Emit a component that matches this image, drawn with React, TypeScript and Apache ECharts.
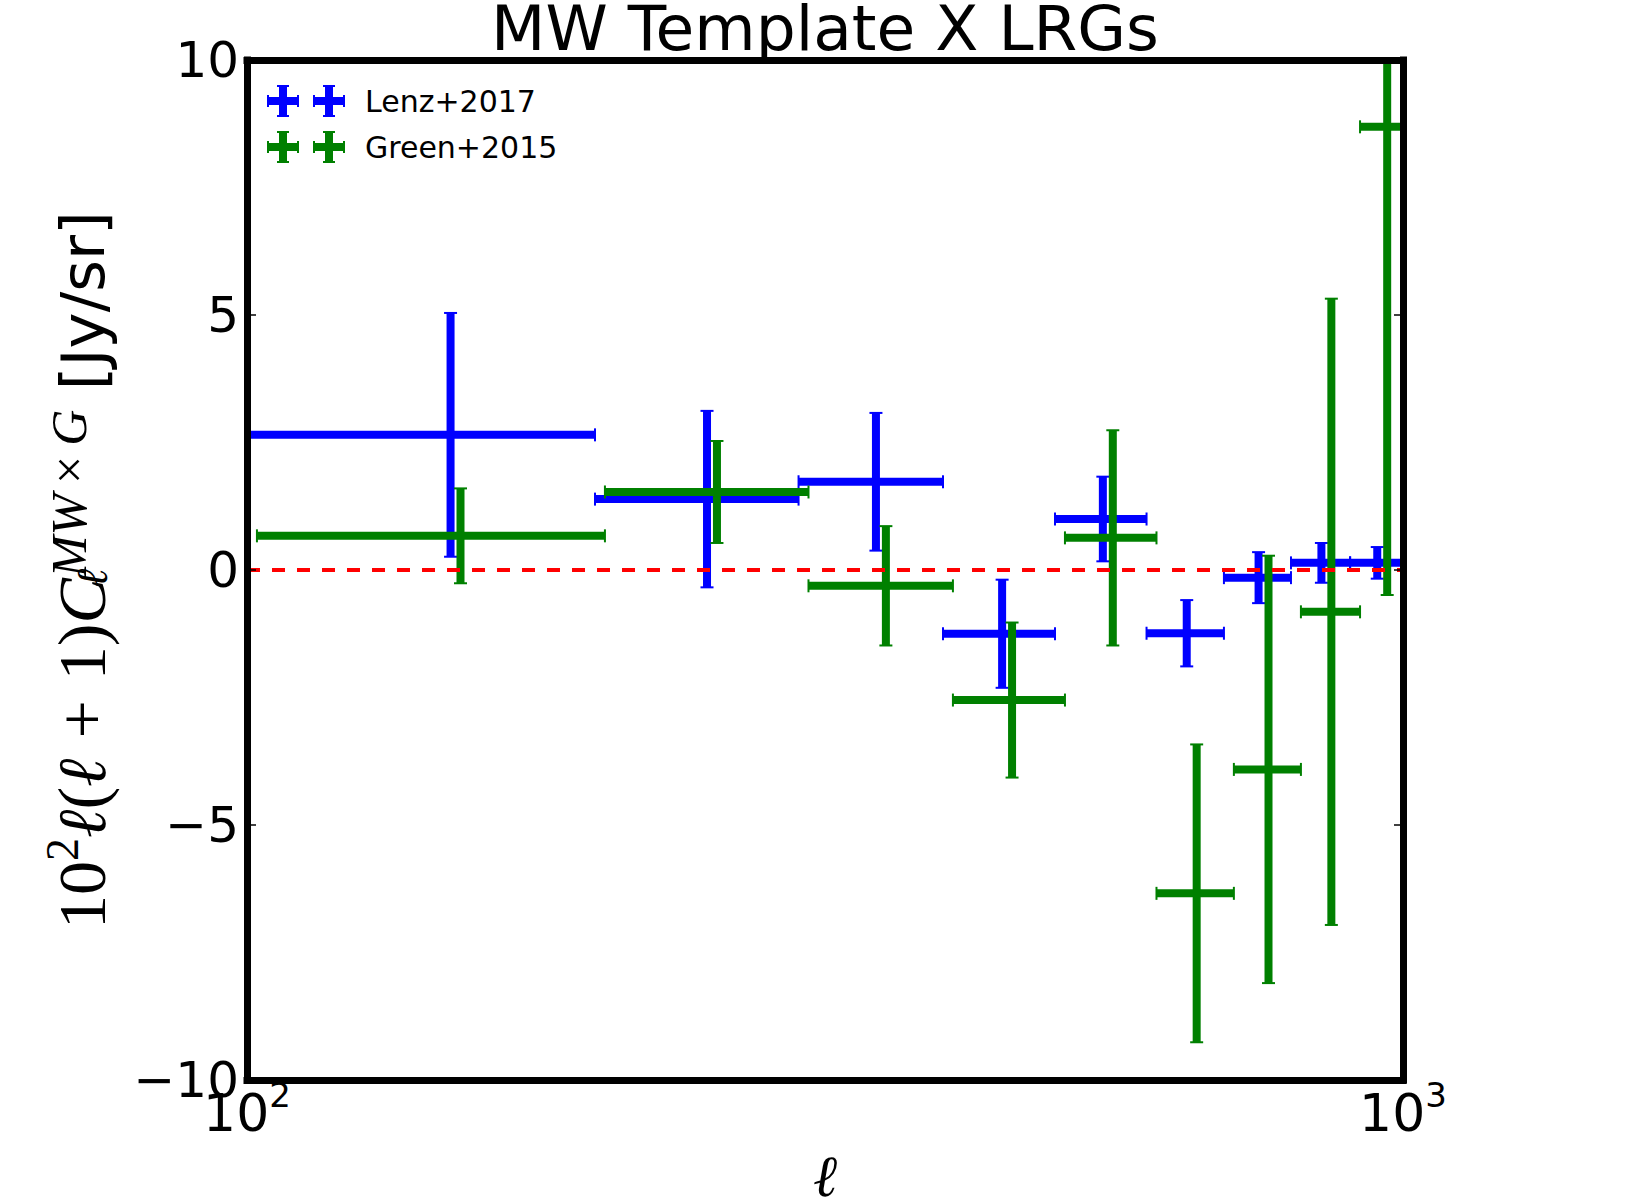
import React, { useEffect, useRef } from 'react';
import * as echarts from 'echarts';

// Lenz+2017 (blue): bin centres, bin edges, values, 1-sigma errors
const lenzEll = [150, 250, 350, 450, 550, 650, 750, 850, 950];
const lenzLo = [100, 200, 300, 400, 500, 600, 700, 800, 900];
const lenzHi = [200, 300, 400, 500, 600, 700, 800, 900, 1000];
const lenzVal = [2.65, 1.39, 1.73, -1.25, 1.0, -1.24, -0.15, 0.14, 0.14];
const lenzErr = [2.39, 1.73, 1.35, 1.06, 0.83, 0.65, 0.5, 0.39, 0.31];

// Green+2015 (green): slightly shifted bins
const greenEll = [153, 255, 357, 459, 561, 663, 765, 867, 969];
const greenLo = [102, 204, 306, 408, 510, 612, 714, 816, 918];
const greenHi = [204, 306, 408, 510, 612, 714, 816, 918, 1020];
const greenVal = [0.67, 1.53, -0.31, -2.55, 0.63, -6.34, -3.91, -0.82, 8.69];
const greenErr = [0.93, 1.0, 1.17, 1.52, 2.11, 2.92, 4.19, 6.14, 9.18];

const yTicks = [-10, -5, 0, 5, 10];
const xRange = [100, 1000];
const zeroLine = [0, 0];

const SANS = 'DejaVu Sans';
const SERIF = 'Liberation Serif';

function crossPath(cx: number): string {
  const r = (x: number, y: number, w: number, h: number) =>
    `M${x} ${y}H${x + w}V${y + h}H${x}Z`;
  return (
    r(cx - 15, 12, 30, 8) +
    r(cx - 4, 1, 8, 30) +
    r(cx - 16, 10, 2, 12) +
    r(cx + 14, 10, 2, 12) +
    r(cx - 6, 0, 12, 2) +
    r(cx - 6, 30, 12, 2)
  );
}
const legendIcon = 'path://' + crossPath(16) + crossPath(62);

function makeRender(color: string) {
  return (params: any, api: any) => {
    const cs = params.coordSys;
    const x0 = cs.x;
    const x1 = cs.x + cs.width;
    const y0 = cs.y;
    const y1 = cs.y + cs.height;
    const cx = (v: number) => Math.max(x0, Math.min(x1, v));
    const cy = (v: number) => Math.max(y0, Math.min(y1, v));
    const xc = api.value(0);
    const yv = api.value(1);
    const xl = api.value(2);
    const xh = api.value(3);
    const e = api.value(4);
    const c = api.coord([xc, yv]);
    const pl = api.coord([xl, yv]);
    const ph = api.coord([xh, yv]);
    const pt = api.coord([xc, yv + e]);
    const pb = api.coord([xc, yv - e]);
    const lw = 8;
    const capHalf = 6.5;
    const capW = 2;
    const st = { stroke: color, lineWidth: lw };
    const cst = { stroke: color, lineWidth: capW };
    const children: any[] = [
      { type: 'line', shape: { x1: cx(pl[0]), y1: c[1], x2: cx(ph[0]), y2: c[1] }, style: st },
      { type: 'line', shape: { x1: c[0], y1: cy(pt[1]), x2: c[0], y2: cy(pb[1]) }, style: st },
    ];
    const inX = (v: number) => v >= x0 - 0.5 && v <= x1 + 0.5;
    const inY = (v: number) => v >= y0 - 0.5 && v <= y1 + 0.5;
    if (inX(pl[0])) children.push({ type: 'line', shape: { x1: pl[0], y1: c[1] - capHalf, x2: pl[0], y2: c[1] + capHalf }, style: cst });
    if (inX(ph[0])) children.push({ type: 'line', shape: { x1: ph[0], y1: c[1] - capHalf, x2: ph[0], y2: c[1] + capHalf }, style: cst });
    if (inY(pt[1])) children.push({ type: 'line', shape: { x1: c[0] - capHalf, y1: pt[1], x2: c[0] + capHalf, y2: pt[1] }, style: cst });
    if (inY(pb[1])) children.push({ type: 'line', shape: { x1: c[0] - capHalf, y1: pb[1], x2: c[0] + capHalf, y2: pb[1] }, style: cst });
    return { type: 'group', children };
  };
}

const frameLine = { show: true, onZero: false, lineStyle: { color: '#000', width: 7, cap: 'square' } };

export default function App() {
  const ref = useRef<HTMLDivElement>(null);
  useEffect(() => {
    document.body.style.margin = '0';
    const chart = echarts.init(ref.current!, null, { renderer: 'svg' });
    const lenzData = lenzEll.map((x, i) => [x, lenzVal[i], lenzLo[i], lenzHi[i], lenzErr[i]]);
    const greenData = greenEll.map((x, i) => [x, greenVal[i], greenLo[i], greenHi[i], greenErr[i]]);
    const option: any = {
      animation: false,
      backgroundColor: '#fff',
      title: {
        text: 'MW Template X LRGs',
        left: 'center',
        top: 1,
        padding: 0,
        textStyle: { fontFamily: SANS, fontSize: 63, lineHeight: 54, fontWeight: 'normal', color: '#000' },
      },
      legend: {
        orient: 'vertical',
        left: 262,
        top: 80,
        itemWidth: 78,
        itemHeight: 32,
        itemGap: 14,
        selectedMode: false,
        data: [
          { name: 'Lenz+2017', icon: legendIcon },
          { name: 'Green+2015', icon: legendIcon },
        ],
        textStyle: { fontFamily: SANS, fontSize: 30, color: '#000', lineHeight: 32, padding: [0, 0, 0, 15] },
      },
      grid: { left: 247, right: 247, top: 60, bottom: 120, containLabel: false, outerBoundsMode: 'none' },
      xAxis: [
        {
          type: 'log',
          logBase: 10,
          min: xRange[0],
          max: xRange[1],
          position: 'bottom',
          z: 10,
          axisLine: frameLine,
          axisTick: { show: false },
          minorTick: { show: false },
          splitLine: { show: false },
          axisLabel: {
            margin: 3,
            showMinLabel: true,
            showMaxLabel: true,
            formatter: (v: number) => `{b|10}{s|${Math.round(Math.log10(v))}}`,
            rich: {
              b: { fontFamily: SANS, fontSize: 52, lineHeight: 60, color: '#000' },
              s: { fontFamily: SANS, fontSize: 34, height: 24, verticalAlign: 'top', color: '#000' },
            },
          },
          name: 'ℓ',
          nameLocation: 'middle',
          nameGap: 74,
          nameTextStyle: { fontFamily: SERIF, fontStyle: 'italic', fontSize: 58, lineHeight: 44, color: '#000' },
        },
        {
          type: 'log',
          logBase: 10,
          min: xRange[0],
          max: xRange[1],
          position: 'top',
          z: 10,
          axisLine: frameLine,
          axisTick: { show: false },
          axisLabel: { show: false },
          splitLine: { show: false },
        },
      ],
      yAxis: [
        {
          type: 'value',
          min: yTicks[0],
          max: yTicks[yTicks.length - 1],
          interval: 5,
          position: 'left',
          z: 10,
          axisLine: frameLine,
          axisTick: { show: true, inside: true, length: 9, lineStyle: { color: '#000', width: 1.5 } },
          splitLine: { show: false },
          axisLabel: {
            margin: 8,
            fontFamily: SANS,
            fontSize: 50,
            color: '#000',
            showMinLabel: true,
            showMaxLabel: true,
            formatter: (v: number) => (v < 0 ? '\u2212' + Math.abs(v) : String(v)),
          },
          name:
            '{n|10}{sup2|2}{i|ℓ}{n|(}{i|ℓ}{op|+}{n|1)}{i|C}{sub|ℓ}{isup|MW}{nsup|\u2009×\u2009}{isup|G}{s| [Jy/sr]}',
          nameLocation: 'middle',
          nameRotate: 90,
          nameGap: 117,
          nameTextStyle: {
            color: '#000',
            rich: {
              n: { fontFamily: SERIF, fontSize: 68, lineHeight: 96, color: '#000' },
              op: { fontFamily: SERIF, fontSize: 68, lineHeight: 96, padding: [0, 20, 0, 20], color: '#000' },
              i: { fontFamily: SERIF, fontStyle: 'italic', fontSize: 68, lineHeight: 96, color: '#000' },
              sup2: { fontFamily: SERIF, fontSize: 46, height: 56, verticalAlign: 'top', color: '#000' },
              isup: { fontFamily: SERIF, fontStyle: 'italic', fontSize: 50, height: 70, verticalAlign: 'top', color: '#000' },
              nsup: { fontFamily: SERIF, fontSize: 50, height: 70, verticalAlign: 'top', color: '#000' },
              sub: { fontFamily: SERIF, fontStyle: 'italic', fontSize: 44, height: 76, width: 1, verticalAlign: 'bottom', color: '#000' },
              s: { fontFamily: SANS, fontSize: 61, lineHeight: 96, color: '#000' },
            },
          },
        },
        {
          type: 'value',
          min: yTicks[0],
          max: yTicks[yTicks.length - 1],
          interval: 5,
          position: 'right',
          z: 10,
          axisLine: frameLine,
          axisTick: { show: true, inside: true, length: 9, lineStyle: { color: '#000', width: 1.5 } },
          axisLabel: { show: false },
          splitLine: { show: false },
        },
      ],
      series: [
        {
          name: 'Lenz+2017',
          type: 'custom',
          coordinateSystem: 'cartesian2d',
          xAxisIndex: 0,
          yAxisIndex: 0,
          z: 2,
          itemStyle: { color: '#0000ff' },
          dimensions: ['ell', 'val', 'lo', 'hi', 'err'],
          encode: { x: 0, y: 1 },
          renderItem: makeRender('#0000ff'),
          data: lenzData,
          silent: true,
        },
        {
          name: 'Green+2015',
          type: 'custom',
          coordinateSystem: 'cartesian2d',
          xAxisIndex: 0,
          yAxisIndex: 0,
          z: 3,
          itemStyle: { color: '#008000' },
          dimensions: ['ell', 'val', 'lo', 'hi', 'err'],
          encode: { x: 0, y: 1 },
          renderItem: makeRender('#008000'),
          data: greenData,
          silent: true,
        },
        {
          name: 'zero',
          type: 'line',
          xAxisIndex: 0,
          yAxisIndex: 0,
          z: 4,
          symbol: 'none',
          silent: true,
          data: xRange.map((x, i) => [x, zeroLine[i]]),
          lineStyle: { color: '#ff0000', width: 4, type: [13, 12] },
        },
      ],
    };
    chart.setOption(option);
    return () => chart.dispose();
  }, []);
  return <div ref={ref} style={{ width: 1650, height: 1200 }} />;
}
